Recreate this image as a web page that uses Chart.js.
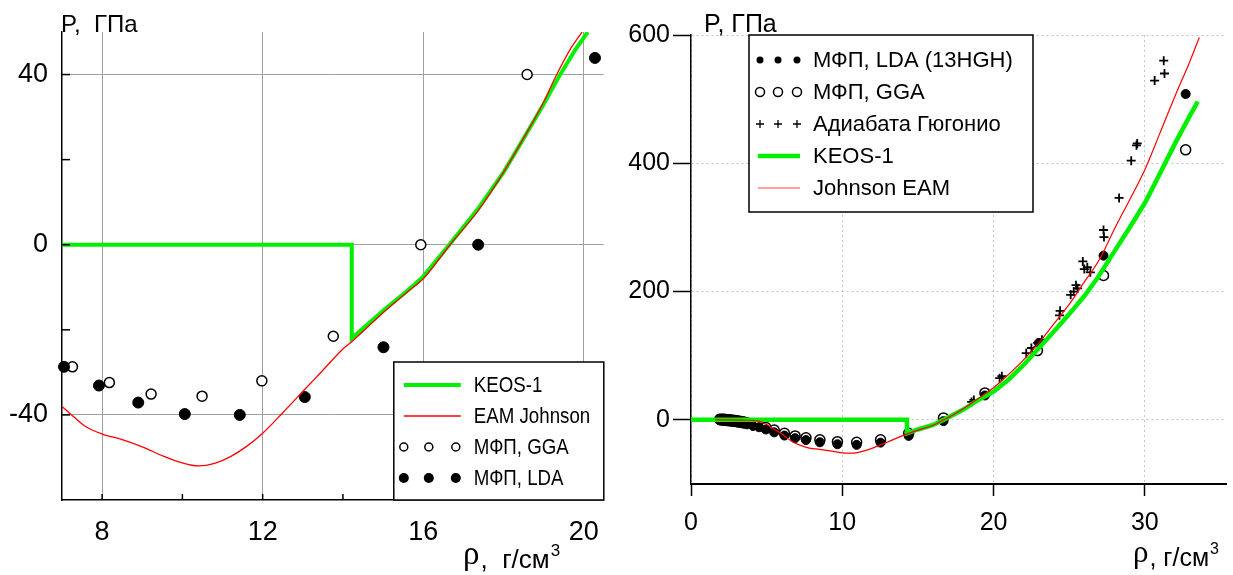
<!DOCTYPE html>
<html><head><meta charset="utf-8">
<script src="https://cdn.jsdelivr.net/npm/chart.js@4.4.1/dist/chart.umd.min.js"></script>
<style>
html,body{margin:0;padding:0;background:#fff;width:1233px;height:575px;overflow:hidden}
#l{position:absolute;left:0;top:0;width:615px;height:575px}
#r{position:absolute;left:615px;top:0;width:618px;height:575px}
</style></head><body>
<div id="l"><canvas id="cl"></canvas></div>
<div id="r"><canvas id="cr"></canvas></div>
<script>
// ---------- tick labels ----------
const leftRhoTicks = [8, 12, 16, 20];
const leftPTicks = [-40, 0, 40];
const leftRhoMinor = [8, 10, 12, 14, 16, 18, 20];
const leftPMinor = [-40, -20, 0, 20, 40];
const rightRhoTicks = [0, 10, 20, 30];
const rightPTicks = [0, 200, 400, 600];

// ---------- left panel data ----------
const leftKeosRho = [7, 14.22, 14.22, 15, 15.62, 16, 16.65, 17.37, 18, 18.56, 19, 19.4, 19.8, 20.1];
const leftKeosP   = [0, 0, -22, -15.5, -10.7, -7.5, 0, 8.5, 17, 25.9, 33, 39.8, 46, 50];
const leftEamRho = [7, 7.3, 7.6, 8, 8.5, 9, 9.5, 10, 10.4, 10.8, 11.2, 11.6, 12, 12.5, 13, 13.5, 14, 14.22, 15, 15.62, 16, 16.67, 17.37, 18, 18.56, 19, 19.3, 19.7, 19.96];
const leftEamP   = [-38, -40.5, -42.8, -44.5, -45.8, -47.5, -49.6, -51.3, -52, -51.4, -49.8, -47.4, -44.3, -39.5, -34.5, -29.5, -24.5, -22.8, -16, -11, -8, 0, 8, 17, 26, 33.5, 39.5, 46.5, 50];
const leftGgaRho = [7.26, 8.18, 9.22, 10.49, 11.98, 13.76, 15.94, 18.59];
const leftGgaP   = [-28.7, -32.4, -35.1, -35.6, -32, -21.5, 0, 40];
const leftLdaRho = [7.05, 7.92, 8.9, 10.06, 11.43, 13.05, 15.01, 17.37, 20.28];
const leftLdaP   = [-28.7, -33.1, -37.1, -39.8, -40, -35.8, -24.1, 0, 43.9];

// ---------- right panel data ----------
const rightKeosRho = [0, 14.28, 14.28, 15, 16, 16.69, 18, 19, 20, 21, 22, 23, 24, 24.86, 26, 26.87, 28, 29, 30.05, 31, 32, 33, 33.5];
const rightKeosP   = [0, 0, -21, -15, -8, 0, 16, 31, 44, 63, 86, 112, 138, 161, 193, 221, 263, 300, 340, 384, 431, 475, 496];
const rightEamRho = [1.6, 2.5, 3.5, 4.4, 4.9, 5.4, 6.06, 6.7, 7.16, 7.82, 8.5, 9.2, 10, 10.5, 11, 11.5, 12, 12.53, 13, 14, 15, 16, 16.7, 17, 18, 19, 20, 21, 22, 23, 24, 25, 26, 27, 28, 29, 30, 31, 32, 33, 33.6];
const rightEamP   = [0, 0, -0.5, -1.6, -6, -13, -23, -34, -39, -44, -46, -48.5, -51.5, -52, -51, -48, -44, -39, -34.5, -24.5, -16, -8.5, 0, 3.5, 17.5, 33.5, 50, 71, 94, 120, 150, 180, 215, 250, 298, 343, 390, 447, 505, 560, 596];
const rightGgaRho = [1.9, 2.0, 2.1, 2.2, 2.3, 2.4, 2.5, 2.6, 2.7, 2.8, 2.9, 3.0, 3.1, 3.2, 3.3, 3.4, 3.5, 3.7, 4.1, 4.5, 4.95, 5.5, 6.18, 6.88, 7.6, 8.52, 9.68, 10.95, 12.53, 14.39, 16.69, 19.43, 22.9, 27.27, 32.7];
const rightGgaP   = [1, 1, 1, 0.8, 0.5, 0.2, 0, -0.3, -0.5, -0.8, -1, -1.4, -1.8, -2.2, -2.5, -3, -3.5, -4.5, -6.5, -8.5, -12, -16, -21, -25, -28, -31, -34, -35, -31, -21, 3, 42, 108, 225, 421];
const rightLdaRho = [1.9, 2.0, 2.1, 2.2, 2.3, 2.4, 2.5, 2.6, 2.7, 2.8, 2.9, 3.0, 3.1, 3.2, 3.3, 3.4, 3.5, 3.7, 4.1, 4.5, 4.95, 5.5, 6.18, 6.88, 7.6, 8.52, 9.68, 10.95, 12.53, 14.39, 16.69, 19.43, 23.0, 27.27, 32.7];
const rightLdaP   = [-1, -1.2, -1.5, -1.7, -2, -2.2, -2.5, -2.7, -3, -3.2, -3.5, -3.9, -4.3, -4.6, -5, -5.5, -6, -7, -9.5, -11.5, -15, -19.5, -24.5, -28.5, -31.5, -35, -38, -39, -35.5, -25, -2, 38, 120, 256, 508];
const rightHugRho = [18.55, 18.7, 20.4, 20.55, 22.16, 22.5, 22.9, 23.2, 24.36, 24.4, 25.1, 25.3, 25.45, 25.56, 25.9, 26.0, 26.2, 26.4, 27.27, 27.3, 28.3, 29.1, 29.45, 29.5, 30.65, 31.25, 31.3];
const rightHugP   = [28, 31, 65, 68, 104, 112, 120, 125, 163, 170, 195, 200, 210, 205, 247, 235, 238, 230, 296, 285, 346, 404, 428, 431, 529, 560, 540];

// ---------- labels ----------
const leftLegend = ['KEOS-1', 'EAM Johnson', 'МФП, GGA', 'МФП, LDA'];
const rightLegend = ['МФП, LDA (13HGH)', 'МФП, GGA', 'Адиабата Гюгонио', 'KEOS-1', 'Johnson EAM'];

const FONT = "'Liberation Sans', Arial, sans-serif";
const GREEN = '#00f000';
const RED = '#ff0000';
function pts(xs, ys) { return xs.map((x, i) => ({ x: x, y: ys[i] })); }

Chart.defaults.font.family = FONT;
Chart.defaults.color = '#000';

function drawCircle(ctx, x, y, r, filled, lw) {
  ctx.beginPath(); ctx.arc(x, y, r, 0, Math.PI * 2);
  if (filled) { ctx.fillStyle = '#000'; ctx.fill(); }
  else { ctx.fillStyle = '#fff'; ctx.fill(); ctx.lineWidth = lw; ctx.strokeStyle = '#000'; ctx.stroke(); }
}
function drawCross(ctx, x, y, r, lw) {
  ctx.beginPath(); ctx.moveTo(x - r, y); ctx.lineTo(x + r, y); ctx.moveTo(x, y - r); ctx.lineTo(x, y + r);
  ctx.lineWidth = lw; ctx.strokeStyle = '#000'; ctx.stroke();
}
function drawRhoTitle(ctx, x, baseline, rhoSize, size, supSize, wide) {
  ctx.save();
  ctx.fillStyle = '#000'; ctx.textBaseline = 'alphabetic'; ctx.textAlign = 'left';
  ctx.font = rhoSize + "px 'Liberation Serif', serif";
  ctx.fillText('ρ', x, baseline - 4);
  x += ctx.measureText('ρ').width + 1;
  ctx.font = size + 'px ' + FONT;
  const t = wide ? ',  г/см' : ', г/см';
  ctx.fillText(t, x, baseline);
  x += ctx.measureText(t).width + 1;
  ctx.font = supSize + 'px ' + FONT;
  ctx.fillText('3', x, baseline - 12);
  ctx.restore();
}

const decor = {
  id: 'decor',
  afterDraw(chart, args, o) {
    const ctx = chart.ctx, a = chart.chartArea;
    const xs = chart.scales.x, ys = chart.scales.y;
    ctx.save();
    if (o.inward) {
      ctx.strokeStyle = '#000'; ctx.lineWidth = 1.5;
      o.inward.x.forEach(v => { const px = xs.getPixelForValue(v); ctx.beginPath(); ctx.moveTo(px, a.bottom); ctx.lineTo(px, a.bottom - 6); ctx.stroke(); });
      o.inward.y.forEach(v => { const py = ys.getPixelForValue(v); ctx.beginPath(); ctx.moveTo(a.left, py); ctx.lineTo(a.left + 8, py); ctx.stroke(); });
    }
    ctx.fillStyle = '#000'; ctx.font = o.yTitle.size + 'px ' + FONT; ctx.textBaseline = 'alphabetic'; ctx.textAlign = 'left';
    ctx.fillText(o.yTitle.text, a.left + o.yTitle.dx, o.yTitle.base);
    drawRhoTitle(ctx, o.xTitle.x, o.xTitle.base, o.xTitle.rho, o.xTitle.size, o.xTitle.sup, o.xTitle.wide);
    const L = o.legend;
    const bx = L.right !== undefined ? a.right - L.w : a.left + L.dx;
    const by = L.bottom !== undefined ? a.bottom - L.h : a.top;
    ctx.fillStyle = '#fff'; ctx.fillRect(bx, by, L.w, L.h);
    ctx.strokeStyle = '#000'; ctx.lineWidth = 1.5; ctx.strokeRect(bx, by, L.w, L.h);
    L.rows.forEach((row, i) => {
      const y = by + L.y0 + i * L.dy;
      if (row.kind === 'line') {
        ctx.beginPath(); ctx.moveTo(bx + L.lx0, y); ctx.lineTo(bx + L.lx1, y);
        ctx.strokeStyle = row.color; ctx.lineWidth = row.width; ctx.stroke();
      } else {
        L.mx.forEach(mx => {
          if (row.kind === 'filled') drawCircle(ctx, bx + mx, y, row.r, true);
          else if (row.kind === 'open') drawCircle(ctx, bx + mx, y, row.r, false, 1.5);
          else drawCross(ctx, bx + mx, y, row.r, 1.3);
        });
      }
      ctx.save();
      ctx.fillStyle = '#000'; ctx.font = L.font + 'px ' + FONT; ctx.textBaseline = 'middle'; ctx.textAlign = 'left';
      ctx.translate(bx + L.tx, y + 1); ctx.scale(L.sx, 1);
      ctx.fillText(row.label, 0, 0);
      ctx.restore();
    });
    ctx.restore();
  }
};

// ---------- left chart ----------
new Chart(document.getElementById('cl'), {
  type: 'scatter',
  data: { datasets: [
    { label: leftLegend[1], data: pts(leftEamRho, leftEamP), showLine: true, borderColor: RED, borderWidth: 1.3, pointRadius: 0, pointHoverRadius: 0, cubicInterpolationMode: 'monotone', order: 0 },
    { label: leftLegend[0], data: pts(leftKeosRho, leftKeosP), showLine: true, borderColor: GREEN, borderWidth: 4, pointRadius: 0, pointHoverRadius: 0, tension: 0, order: 1 },
    { label: leftLegend[3], data: pts(leftLdaRho, leftLdaP), pointRadius: 5.5, backgroundColor: '#000', borderColor: '#000', borderWidth: 1, order: 2, clip: false },
    { label: leftLegend[2], data: pts(leftGgaRho, leftGgaP), pointRadius: 5, backgroundColor: '#fff', borderColor: '#000', borderWidth: 1.5, order: 3, clip: false }
  ]},
  options: {
    responsive: true, maintainAspectRatio: false, animation: false, devicePixelRatio: 1, events: [],
    layout: { padding: { top: 32, right: 7, left: 0, bottom: 0 } },
    plugins: {
      legend: { display: false }, tooltip: { enabled: false },
      decor: {
        inward: { x: leftRhoMinor, y: leftPMinor },
        yTitle: { text: 'P,  ГПа', size: 24, dx: -1, base: 32 },
        xTitle: { x: 463, base: 568, rho: 33, size: 26, sup: 17, wide: true },
        legend: { right: true, bottom: true, w: 210, h: 138, y0: 23, dy: 31, lx0: 10, lx1: 67, mx: [10, 35, 62], tx: 80, font: 22, sx: 0.85,
          rows: [
            { kind: 'line', color: GREEN, width: 4, label: leftLegend[0] },
            { kind: 'line', color: RED, width: 1.3, label: leftLegend[1] },
            { kind: 'open', r: 4, label: leftLegend[2] },
            { kind: 'filled', r: 5, label: leftLegend[3] }
          ] }
      }
    },
    scales: {
      x: { type: 'linear', min: 7, max: 20.5,
        afterBuildTicks: s => { s.ticks = leftRhoTicks.map(v => ({ value: v })); },
        afterFit: s => { s.height = 75; },
        grid: { color: '#a0a0a0', lineWidth: 1, drawTicks: false },
        border: { color: '#000', width: 1.5 },
        ticks: { font: { size: 27 }, color: '#000', padding: 16, maxRotation: 0, autoSkip: false, callback: v => String(v) } },
      y: { type: 'linear', min: -60, max: 50,
        afterBuildTicks: s => { s.ticks = leftPTicks.map(v => ({ value: v })); },
        afterFit: s => { s.width = 62; },
        grid: { color: '#a0a0a0', lineWidth: 1, drawTicks: false },
        border: { color: '#000', width: 1.5 },
        ticks: { font: { size: 27 }, color: '#000', padding: 14, autoSkip: false, callback: v => String(v) } }
    }
  },
  plugins: [decor]
});

// ---------- right chart ----------
new Chart(document.getElementById('cr'), {
  type: 'scatter',
  data: { datasets: [
    { label: rightLegend[4], data: pts(rightEamRho, rightEamP), showLine: true, borderColor: RED, borderWidth: 1.2, pointRadius: 0, pointHoverRadius: 0, cubicInterpolationMode: 'monotone', order: 0 },
    { label: rightLegend[3], data: pts(rightKeosRho, rightKeosP), showLine: true, borderColor: GREEN, borderWidth: 4.5, pointRadius: 0, pointHoverRadius: 0, tension: 0, order: 1 },
    { label: rightLegend[0], data: pts(rightLdaRho, rightLdaP), pointRadius: 4.5, backgroundColor: '#000', borderColor: '#000', borderWidth: 1, order: 2, clip: false },
    { label: rightLegend[1], data: pts(rightGgaRho, rightGgaP), pointRadius: 5, backgroundColor: '#fff', borderColor: '#000', borderWidth: 1.5, order: 3, clip: false },
    { label: rightLegend[2], data: pts(rightHugRho, rightHugP), pointStyle: 'cross', pointRadius: 4.5, borderColor: '#000', borderWidth: 1.8, order: 4, clip: false }
  ]},
  options: {
    responsive: true, maintainAspectRatio: false, animation: false, devicePixelRatio: 1, events: [],
    layout: { padding: { top: 35, right: 3, left: 0, bottom: 0 } },
    plugins: {
      legend: { display: false }, tooltip: { enabled: false },
      decor: {
        yTitle: { text: 'P, ГПа', size: 25, dx: 13, base: 32 },
        xTitle: { x: 518, base: 566, rho: 31, size: 25, sup: 16, wide: false },
        legend: { dx: 58, w: 284, h: 177, y0: 25, dy: 32, lx0: 9, lx1: 51, mx: [11, 29, 48], tx: 64, font: 22, sx: 1,
          rows: [
            { kind: 'filled', r: 3.5, label: rightLegend[0] },
            { kind: 'open', r: 4.5, label: rightLegend[1] },
            { kind: 'cross', r: 4, label: rightLegend[2] },
            { kind: 'line', color: GREEN, width: 4.5, label: rightLegend[3] },
            { kind: 'line', color: '#ff4040', width: 1.2, label: rightLegend[4] }
          ] }
      }
    },
    scales: {
      x: { type: 'linear', min: 0, max: 35.4,
        afterBuildTicks: s => { s.ticks = rightRhoTicks.map(v => ({ value: v })); },
        afterFit: s => { s.height = 91; },
        grid: { color: '#c4c4c4', lineWidth: 1, drawTicks: true, tickLength: 12, tickColor: '#000', tickWidth: 1.5 },
        border: { color: '#000', width: 2, dash: [2, 3] },
        ticks: { font: { size: 25 }, color: '#000', padding: 12, maxRotation: 0, autoSkip: false, callback: v => String(v) } },
      y: { type: 'linear', min: -100, max: 600,
        afterBuildTicks: s => { s.ticks = rightPTicks.map(v => ({ value: v })); },
        afterFit: s => { s.width = 76; },
        grid: { color: '#c4c4c4', lineWidth: 1, drawTicks: true, tickLength: 18, tickColor: '#000', tickWidth: 1.5 },
        border: { color: '#000', width: 1.5, dash: [2, 3] },
        ticks: { font: { size: 25 }, color: '#000', padding: 3, autoSkip: false, callback: v => String(v) } }
    }
  },
  plugins: [decor]
});
</script>
</body></html>
